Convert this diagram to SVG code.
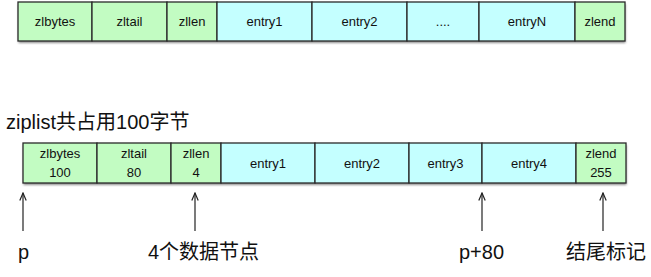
<svg xmlns="http://www.w3.org/2000/svg" width="651" height="277" viewBox="0 0 651 277">
<style>
.g{fill:#c2fcc2}
.c{fill:#c4ffff}
.b{stroke:#2a2a2a;stroke-width:1.3}
.t{font-family:"Liberation Sans",Arial,sans-serif;font-size:13px;fill:#111;text-anchor:middle}
.L{font-family:"Liberation Sans","Noto Sans CJK SC",sans-serif;font-size:20px;fill:#111}
.a{stroke:#222;stroke-width:1.2;fill:none}
</style>
<defs>
<filter id="sh" x="-5%" y="-20%" width="110%" height="150%">
<feDropShadow dx="0.5" dy="2" stdDeviation="1.2" flood-color="#000" flood-opacity="0.45"/>
</filter>
<marker id="ah" markerWidth="10" markerHeight="10" refX="9" refY="5" orient="auto" markerUnits="userSpaceOnUse" viewBox="0 0 10 10">
<path d="M1.5,1.8 L9,5 L1.5,8.2" fill="none" stroke="#222" stroke-width="1.2"/>
</marker>
</defs>
<g id="row1">
<rect x="18" y="2" width="607" height="39" fill="#fff" filter="url(#sh)"/>
<g id="r1-zlbytes"><rect class="g b" x="18" y="2" width="74" height="39"/><text class="t" x="55" y="26">zlbytes</text></g>
<g id="r1-zltail"><rect class="g b" x="92" y="2" width="75" height="39"/><text class="t" x="129.5" y="26">zltail</text></g>
<g id="r1-zllen"><rect class="g b" x="167" y="2" width="50" height="39"/><text class="t" x="192" y="26">zllen</text></g>
<g id="r1-entry1"><rect class="c b" x="217" y="2" width="95" height="39"/><text class="t" x="264.5" y="26">entry1</text></g>
<g id="r1-entry2"><rect class="c b" x="312" y="2" width="95" height="39"/><text class="t" x="359.5" y="26">entry2</text></g>
<g id="r1-dots"><rect class="c b" x="407" y="2" width="72" height="39"/><text class="t" x="443" y="26">....</text></g>
<g id="r1-entryN"><rect class="c b" x="479" y="2" width="96" height="39"/><text class="t" x="527" y="26">entryN</text></g>
<g id="r1-zlend"><rect class="g b" x="575" y="2" width="50" height="39"/><text class="t" x="600" y="26">zlend</text></g>
</g>
<g id="title"><text class="L" x="6" y="129">ziplist共占用100字节</text></g>
<g id="row2">
<rect x="23" y="143" width="603" height="40" fill="#fff" filter="url(#sh)"/>
<g id="r2-zlbytes"><rect class="g b" x="23" y="143" width="74" height="40"/><text class="t" x="60" y="158">zlbytes</text><text class="t" x="60" y="177">100</text></g>
<g id="r2-zltail"><rect class="g b" x="97" y="143" width="74" height="40"/><text class="t" x="134" y="158">zltail</text><text class="t" x="134" y="177">80</text></g>
<g id="r2-zllen"><rect class="g b" x="171" y="143" width="50" height="40"/><text class="t" x="196" y="158">zllen</text><text class="t" x="196" y="177">4</text></g>
<g id="r2-entry1"><rect class="c b" x="221" y="143" width="94" height="40"/><text class="t" x="268" y="167.5">entry1</text></g>
<g id="r2-entry2"><rect class="c b" x="315" y="143" width="94" height="40"/><text class="t" x="362" y="167.5">entry2</text></g>
<g id="r2-entry3"><rect class="c b" x="409" y="143" width="73" height="40"/><text class="t" x="445.5" y="167.5">entry3</text></g>
<g id="r2-entry4"><rect class="c b" x="482" y="143" width="94" height="40"/><text class="t" x="529" y="167.5">entry4</text></g>
<g id="r2-zlend"><rect class="g b" x="576" y="143" width="50" height="40"/><text class="t" x="601" y="158">zlend</text><text class="t" x="601" y="177">255</text></g>
</g>
<g id="connectors">
<line class="a" x1="23" y1="231" x2="23" y2="193" marker-end="url(#ah)"/>
<line class="a" x1="195" y1="231" x2="195" y2="193" marker-end="url(#ah)"/>
<line class="a" x1="482" y1="231" x2="482" y2="193" marker-end="url(#ah)"/>
<line class="a" x1="603" y1="231" x2="603" y2="193" marker-end="url(#ah)"/>
</g>
<g id="label-p"><text class="L" x="18" y="259">p</text></g>
<g id="label-4"><text class="L" x="148" y="259">4个数据节点</text></g>
<g id="label-p80"><text class="L" x="459" y="259">p+80</text></g>
<g id="label-end"><text class="L" x="566" y="259">结尾标记</text></g>
</svg>
